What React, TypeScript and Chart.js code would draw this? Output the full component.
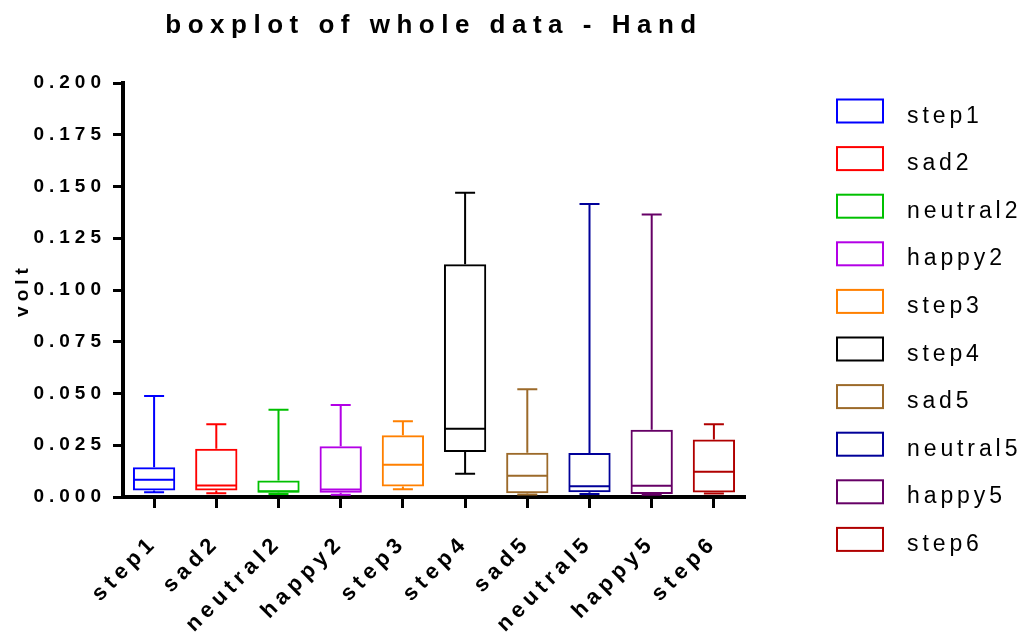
import React, { useEffect, useRef } from 'react';
import { Chart, registerables } from 'chart.js';

Chart.register(...registerables);

const categories = ['step1', 'sad2', 'neutral2', 'happy2', 'step3', 'step4', 'sad5', 'neutral5', 'happy5', 'step6'];
const mins = [0.0023, 0.0018, 0.0015, 0.0011, 0.0038, 0.0112, 0.0012, 0.0015, 0.0011, 0.0017];
const q1s = [0.0031, 0.0031, 0.0020, 0.0020, 0.0051, 0.0217, 0.0018, 0.0023, 0.0015, 0.0022];
const medians = [0.0083, 0.0056, 0.0028, 0.0036, 0.0156, 0.0330, 0.0103, 0.0052, 0.0054, 0.0122];
const q3s = [0.0144, 0.0233, 0.0080, 0.0245, 0.0298, 0.1124, 0.0214, 0.0212, 0.0325, 0.0278];
const maxs = [0.0488, 0.0351, 0.0422, 0.0445, 0.0366, 0.1470, 0.0520, 0.1415, 0.1365, 0.0351];
const colors = ['#0000FF', '#FF0000', '#00C000', '#B300E6', '#FF8000', '#000000', '#9C6A2A', '#000099', '#660066', '#B00000'];
const yTicks = [0, 0.025, 0.05, 0.075, 0.1, 0.125, 0.15, 0.175, 0.2];
const titleText = 'boxplot of whole data - Hand';
const yTitle = 'volt';

const FONT = "'Liberation Sans', Arial, Helvetica, sans-serif";
const SPACING = '5px';

const spacingPlugin = {
  id: 'spacing',
  beforeUpdate(chart: any) { chart.ctx.letterSpacing = SPACING; },
  beforeLayout(chart: any) { chart.ctx.letterSpacing = SPACING; },
  beforeDraw(chart: any) { chart.ctx.letterSpacing = SPACING; },
  resize(chart: any) { chart.ctx.letterSpacing = SPACING; },
};

const whiskerPlugin = {
  id: 'whiskers',
  afterDatasetsDraw(chart: any) {
    const ctx = chart.ctx;
    const y = chart.scales.y;
    const meta = chart.getDatasetMeta(0);
    const cap = 10;
    ctx.save();
    ctx.lineWidth = 2;
    meta.data.forEach((bar: any, i: number) => {
      const { x, width } = bar.getProps(['x', 'width'], true);
      const yMin = y.getPixelForValue(mins[i]);
      const yQ1 = y.getPixelForValue(q1s[i]);
      const yMed = y.getPixelForValue(medians[i]);
      const yQ3 = y.getPixelForValue(q3s[i]);
      const yMax = y.getPixelForValue(maxs[i]);
      ctx.strokeStyle = colors[i];
      ctx.beginPath();
      ctx.moveTo(x, yQ3);
      ctx.lineTo(x, yMax);
      ctx.moveTo(x - cap, yMax);
      ctx.lineTo(x + cap, yMax);
      ctx.moveTo(x, yQ1);
      ctx.lineTo(x, yMin);
      ctx.moveTo(x - cap, yMin);
      ctx.lineTo(x + cap, yMin);
      ctx.moveTo(x - width / 2 + 1, yMed);
      ctx.lineTo(x + width / 2 - 1, yMed);
      ctx.stroke();
    });
    ctx.restore();
  },
};

const titlePlugin = {
  id: 'customTitle',
  afterDraw(chart: any) {
    const ctx = chart.ctx;
    const { left, right } = chart.chartArea;
    ctx.save();
    ctx.letterSpacing = '6.5px';
    ctx.font = `bold 26px ${FONT}`;
    ctx.fillStyle = '#000';
    ctx.textAlign = 'center';
    ctx.textBaseline = 'alphabetic';
    ctx.fillText(titleText, (left + right) / 2, 33);
    ctx.restore();
  },
};

const legendPlugin = {
  id: 'customLegend',
  afterDraw(chart: any) {
    const ctx = chart.ctx;
    ctx.save();
    ctx.letterSpacing = '3.9px';
    ctx.font = `23px ${FONT}`;
    ctx.textAlign = 'left';
    ctx.textBaseline = 'alphabetic';
    categories.forEach((name, i) => {
      const top = 99.5 + i * 47.6;
      ctx.strokeStyle = colors[i];
      ctx.lineWidth = 2;
      ctx.strokeRect(837, top, 46, 23);
      ctx.fillStyle = '#000';
      ctx.fillText(name, 907, top + 23);
    });
    ctx.restore();
  },
};

export default function App() {
  const canvasRef = useRef<HTMLCanvasElement | null>(null);

  useEffect(() => {
    if (!canvasRef.current) return;
    const chart = new Chart(canvasRef.current, {
      type: 'bar',
      data: {
        labels: categories,
        datasets: [
          {
            data: categories.map((_, i) => [q1s[i], q3s[i]]) as any,
            borderColor: colors,
            backgroundColor: 'rgba(0,0,0,0)',
            borderWidth: 2,
            borderSkipped: false,
            barPercentage: 0.68,
            categoryPercentage: 1,
          },
        ],
      },
      options: {
        animation: false,
        responsive: true,
        maintainAspectRatio: false,
        layout: { padding: { top: 83, right: 284, bottom: 0, left: 0 } },
        plugins: {
          legend: { display: false },
          title: { display: false },
          tooltip: { enabled: false },
        },
        scales: {
          x: {
            offset: true,
            grid: {
              display: true,
              drawOnChartArea: false,
              drawTicks: true,
              offset: false,
              tickLength: 11,
              tickWidth: 3,
              tickColor: '#000',
            },
            border: { display: true, color: '#000', width: 4 },
            ticks: {
              autoSkip: false,
              minRotation: 45,
              maxRotation: 45,
              padding: 22,
              color: '#000',
              font: { family: FONT, size: 22, weight: 'bold' },
            },
            afterFit(scale: any) {
              scale.height = 138;
            },
          },
          y: {
            min: 0,
            max: 0.2,
            grid: {
              display: true,
              drawOnChartArea: false,
              drawTicks: true,
              tickLength: 10,
              tickWidth: 3,
              tickColor: '#000',
            },
            border: { display: true, color: '#000', width: 4 },
            ticks: {
              padding: 7,
              color: '#000',
              font: { family: FONT, size: 19, weight: 'bold' },
              callback: (v: any) => Number(v).toFixed(3),
            },
            afterBuildTicks(scale: any) {
              scale.ticks = yTicks.map((v) => ({ value: v }));
            },
            afterFit(scale: any) {
              scale.width = 123;
            },
            title: {
              display: true,
              text: yTitle,
              color: '#000',
              font: { family: FONT, size: 19, weight: 'bold' },
              padding: { top: 11, bottom: 0 },
            },
          },
        },
      },
      plugins: [spacingPlugin, whiskerPlugin, titlePlugin, legendPlugin],
    });
    return () => chart.destroy();
  }, []);

  return (
    <div style={{ position: 'fixed', left: 0, top: 0, width: 1029, height: 635, background: '#fff' }}>
      <canvas ref={canvasRef} />
    </div>
  );
}
